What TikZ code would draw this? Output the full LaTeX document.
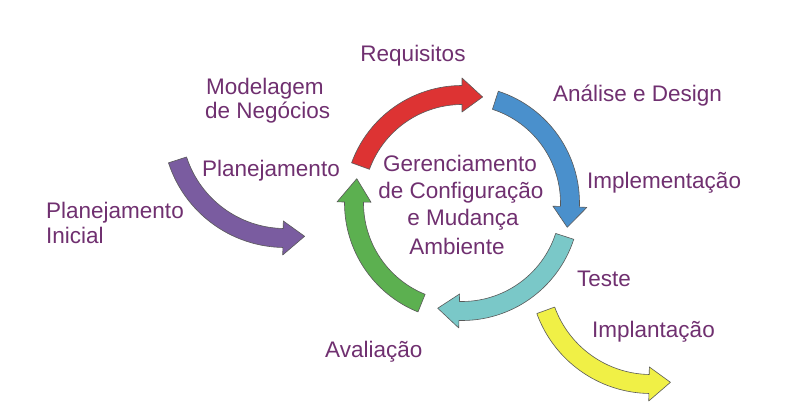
\documentclass[tikz,border=0pt]{standalone}
\usepackage{fontspec}
\setmainfont{Liberation Sans}
\definecolor{txtc}{RGB}{112,48,112}
\definecolor{cred}{RGB}{221,51,51}
\definecolor{cblue}{RGB}{74,144,204}
\definecolor{cteal}{RGB}{122,200,200}
\definecolor{cgreen}{RGB}{92,176,80}
\definecolor{cpurple}{RGB}{122,92,160}
\definecolor{cyellow}{RGB}{240,240,70}
\newcommand\ringbw{9.5}
\newcommand\ringhw{17}
% #1 cx, #2 cy, #3 R, #4 tail angle, #5 head-back angle, #6 tip angle, #7 colour
\newcommand\ringarrow[7]{%
  \begin{scope}[shift={(#1,#2)}]
    \filldraw[arrowshape, fill=#7] (#4:{#3+\ringbw})
      arc[start angle=#4, end angle=#5, radius={#3+\ringbw}]
      -- (#5:{#3+\ringhw}) -- (#6:#3) -- (#5:{#3-\ringhw}) -- (#5:{#3-\ringbw})
      arc[start angle=#5, end angle=#4, radius={#3-\ringbw}] -- cycle;
  \end{scope}}
\begin{document}
\begin{tikzpicture}[x=1pt,y=1pt,
  arrowshape/.style={draw=black!65, line width=0.6pt, line join=round},
  lbl/.style={text=txtc, font=\fontsize{22.5}{27}\selectfont, inner sep=0pt}]
\fill[white] (0,0) rectangle (809,416);
\useasboundingbox (0,0) rectangle (809,416);
% ring of arrows (centre 462,213)
\ringarrow{462}{213}{108}{160}{90}{79}{cred}
\ringarrow{462}{213}{108}{72}{-2}{-13}{cblue}
\ringarrow{462}{213}{108}{-18}{-91.5}{-103}{cteal}
\ringarrow{462}{213}{108}{248}{179.5}{167}{cgreen}
% entry and exit arrows
\ringarrow{285}{291}{113}{198}{269}{280}{cpurple}
\ringarrow{651}{144}{112}{200}{269}{280}{cyellow}
% labels
\node[lbl, anchor=base] (req) at (413,354) {Requisitos};
\node[lbl, anchor=base west] (mod1) at (206,321) {Modelagem};
\node[lbl, anchor=base west] (mod2) at (205,298) {de Negócios};
\node[lbl, anchor=base west] (ana) at (553,315) {Análise e Design};
\node[lbl, anchor=base west] (plan) at (202,240) {Planejamento};
\node[lbl, anchor=base] (ger1) at (460,244.3) {Gerenciamento};
\node[lbl, anchor=base] (ger2) at (461,218) {de Configuração};
\node[lbl, anchor=base] (ger3) at (463,191) {e Mudança};
\node[lbl, anchor=base] (amb) at (457,162) {Ambiente};
\node[lbl, anchor=base west] (impl) at (587,228) {Implementação};
\node[lbl, anchor=base west] (pini1) at (46,198) {Planejamento};
\node[lbl, anchor=base west] (pini2) at (46,173) {Inicial};
\node[lbl, anchor=base west] (teste) at (577,130) {Teste};
\node[lbl, anchor=base west] (impla) at (592,79) {Implantação};
\node[lbl, anchor=base west] (aval) at (325,59) {Avaliação};
\end{tikzpicture}
\end{document}
